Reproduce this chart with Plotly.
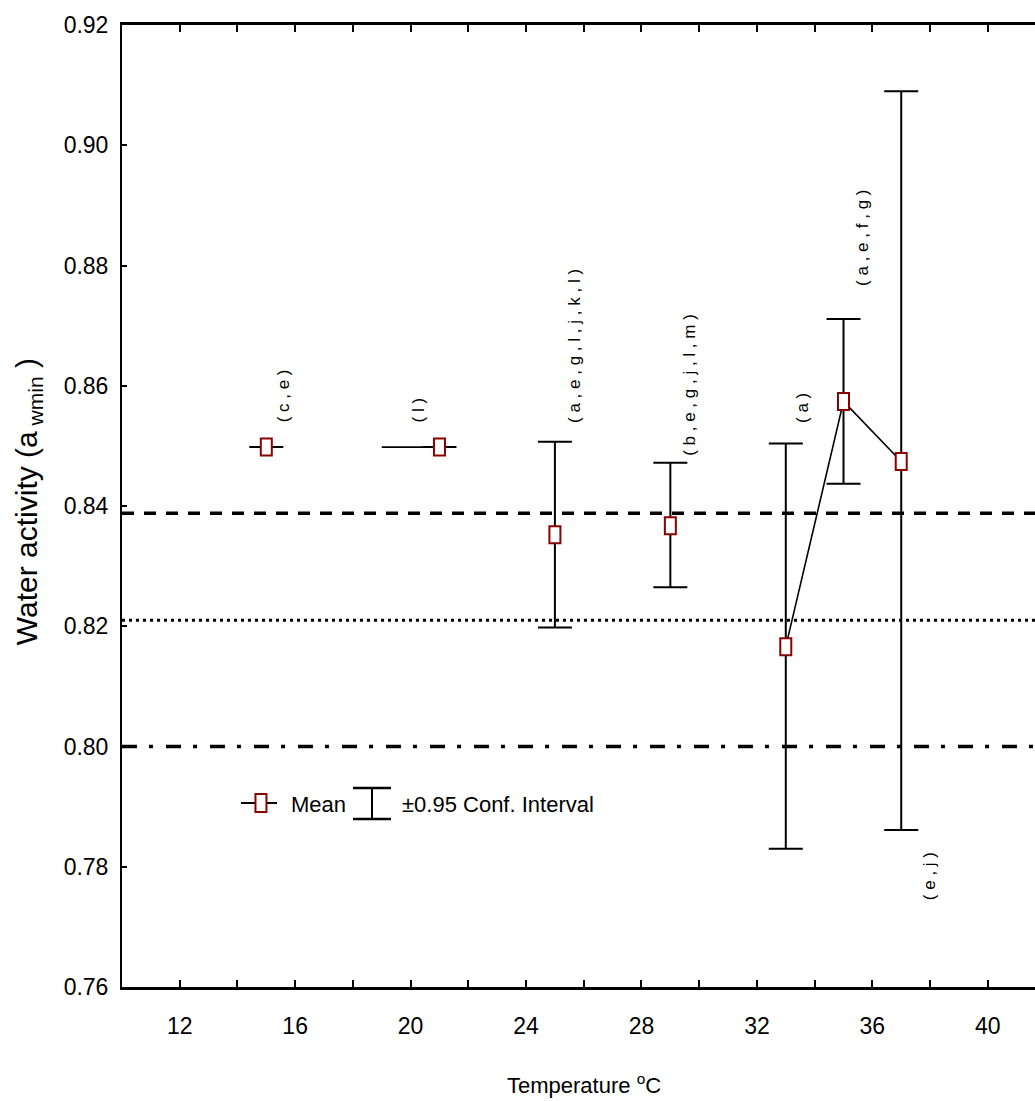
import plotly.graph_objects as go

# Minimum water activity for growth at each incubation temperature
temperature = [15, 21, 25, 29, 33, 35, 37]
mean_aw = [0.8498, 0.8498, 0.8352, 0.8367, 0.8166, 0.8574, 0.8474]
ci_upper = [0.8498, 0.8498, 0.8507, 0.8472, 0.8504, 0.8711, 0.9090]
ci_lower = [0.8498, 0.8498, 0.8198, 0.8265, 0.7830, 0.8437, 0.7861]

# Segments joining consecutive means (None breaks the line)
join_temp = [19, 21, None, 33, 35, 37]
join_aw = [0.8498, 0.8498, None, 0.8166, 0.8574, 0.8474]

# Homogeneous-group letters above/below each mean
group_labels = ["(c,e)", "(l)", "(a,e,g,l,j,k,l)", "(b,e,g,j,l,m)", "(a)", "(a,e,f,g)", "(e,j)"]
label_temp = [15.58, 20.26, 25.70, 29.68, 33.60, 35.68, 37.96]
label_aw = [0.8535, 0.8535, 0.8535, 0.8480, 0.8535, 0.8763, 0.7741]

# Horizontal reference levels
ref_levels = [0.8388, 0.8210, 0.8000]
ref_dashes = ["12px,10px", "3px,4px", "15px,12px,4px,13px"]
ref_widths = [3.5, 3, 3.5]

y_ticks = [0.76, 0.78, 0.80, 0.82, 0.84, 0.86, 0.88, 0.90, 0.92]

FONT = "Liberation Sans, Arial, sans-serif"
MARK_RED = "#8b0000"

fig = go.Figure()

# Joining lines between means
fig.add_trace(go.Scatter(
    x=join_temp, y=join_aw, mode="lines",
    line=dict(color="black", width=1.6),
    connectgaps=False, hoverinfo="skip", showlegend=False,
))

# Confidence intervals
fig.add_trace(go.Scatter(
    x=temperature, y=mean_aw, mode="markers",
    marker=dict(size=1, color="rgba(0,0,0,0)"),
    error_y=dict(
        type="data", symmetric=False,
        array=[u - m for u, m in zip(ci_upper, mean_aw)],
        arrayminus=[m - l for m, l in zip(mean_aw, ci_lower)],
        color="black", thickness=2, width=17,
    ),
    showlegend=False,
))

shapes = []
for lvl, dsh, w in zip(ref_levels, ref_dashes, ref_widths):
    shapes.append(dict(type="line", xref="paper", yref="y", x0=0, x1=1, y0=lvl, y1=lvl,
                       line=dict(color="black", width=w, dash=dsh), layer="below"))

# Mean markers: small upright open rectangles
for t, m in zip(temperature, mean_aw):
    shapes.append(dict(type="rect", xref="x", yref="y",
                       xsizemode="pixel", ysizemode="pixel", xanchor=t, yanchor=m,
                       x0=-5.5, x1=5.5, y0=-8.5, y1=8.5,
                       line=dict(color=MARK_RED, width=2), fillcolor="white"))

# Legend glyphs
shapes.append(dict(type="line", xref="paper", yref="paper", x0=0.1303, x1=0.1698,
                   y0=0.1913, y1=0.1913, line=dict(color="black", width=2)))
shapes.append(dict(type="rect", xref="paper", yref="paper",
                   xsizemode="pixel", ysizemode="pixel", xanchor=0.1522, yanchor=0.1913,
                   x0=-5.5, x1=5.5, y0=-9, y1=9,
                   line=dict(color=MARK_RED, width=2), fillcolor="white"))
shapes.append(dict(type="line", xref="paper", yref="paper", x0=0.2738, x1=0.2738,
                   y0=0.1746, y1=0.2069, line=dict(color="black", width=2)))
for yy in (0.1746, 0.2069):
    shapes.append(dict(type="line", xref="paper", yref="paper", x0=0.2530, x1=0.2946,
                       y0=yy, y1=yy, line=dict(color="black", width=2.5)))

annotations = []
for txt, lx, ly in zip(group_labels, label_temp, label_aw):
    annotations.append(dict(text=" ".join(txt), x=lx, y=ly, xref="x", yref="y",
                            xanchor="center", yanchor="bottom", textangle=-90,
                            showarrow=False, font=dict(family=FONT, size=17, color="black")))

annotations.append(dict(text="Mean", x=0.1829, y=0.1892, xref="paper", yref="paper",
                        xanchor="left", yanchor="middle", showarrow=False,
                        font=dict(family=FONT, size=22, color="black")))
annotations.append(dict(text="±0.95 Conf. Interval", x=0.3045, y=0.1892, xref="paper", yref="paper",
                        xanchor="left", yanchor="middle", showarrow=False,
                        font=dict(family=FONT, size=22, color="black")))

# Axis titles
annotations.append(dict(text="Water activity (a<sub> wmin</sub> )", x=-0.103, y=0.505,
                        xref="paper", yref="paper", xanchor="center", yanchor="middle",
                        textangle=-90, showarrow=False,
                        font=dict(family=FONT, size=30, color="black")))
annotations.append(dict(text="Temperature <sup>o</sup>C", x=0.506, y=-0.101,
                        xref="paper", yref="paper", xanchor="center", yanchor="middle",
                        showarrow=False, font=dict(family=FONT, size=22, color="black")))

fig.update_layout(
    width=1035, height=1101,
    margin=dict(l=122, r=0, t=25, b=114),
    paper_bgcolor="white", plot_bgcolor="white",
    shapes=shapes, annotations=annotations,
    showlegend=False,
    xaxis=dict(
        range=[10, 41.635], tickmode="linear", tick0=12, dtick=4,
        ticks="inside", ticklen=7, tickwidth=1.5, tickcolor="black",
        minor=dict(tickmode="linear", tick0=12, dtick=2, ticks="inside", ticklen=7,
                   tickwidth=1.5, tickcolor="black", showgrid=False),
        showline=True, linecolor="black", linewidth=2.5, mirror="ticks",
        showgrid=False, zeroline=False, ticklabelstandoff=17,
        tickfont=dict(family=FONT, size=23, color="black"),
    ),
    yaxis=dict(
        range=[0.76, 0.92], tickmode="array", tickvals=y_ticks, tickformat=".2f",
        ticks="inside", ticklen=5, tickwidth=1.5, tickcolor="black",
        showline=True, linecolor="black", linewidth=2, mirror=False,
        showgrid=False, zeroline=False, ticklabelstandoff=7,
        tickfont=dict(family=FONT, size=23, color="black"),
    ),
)

fig.write_html("out.html")
